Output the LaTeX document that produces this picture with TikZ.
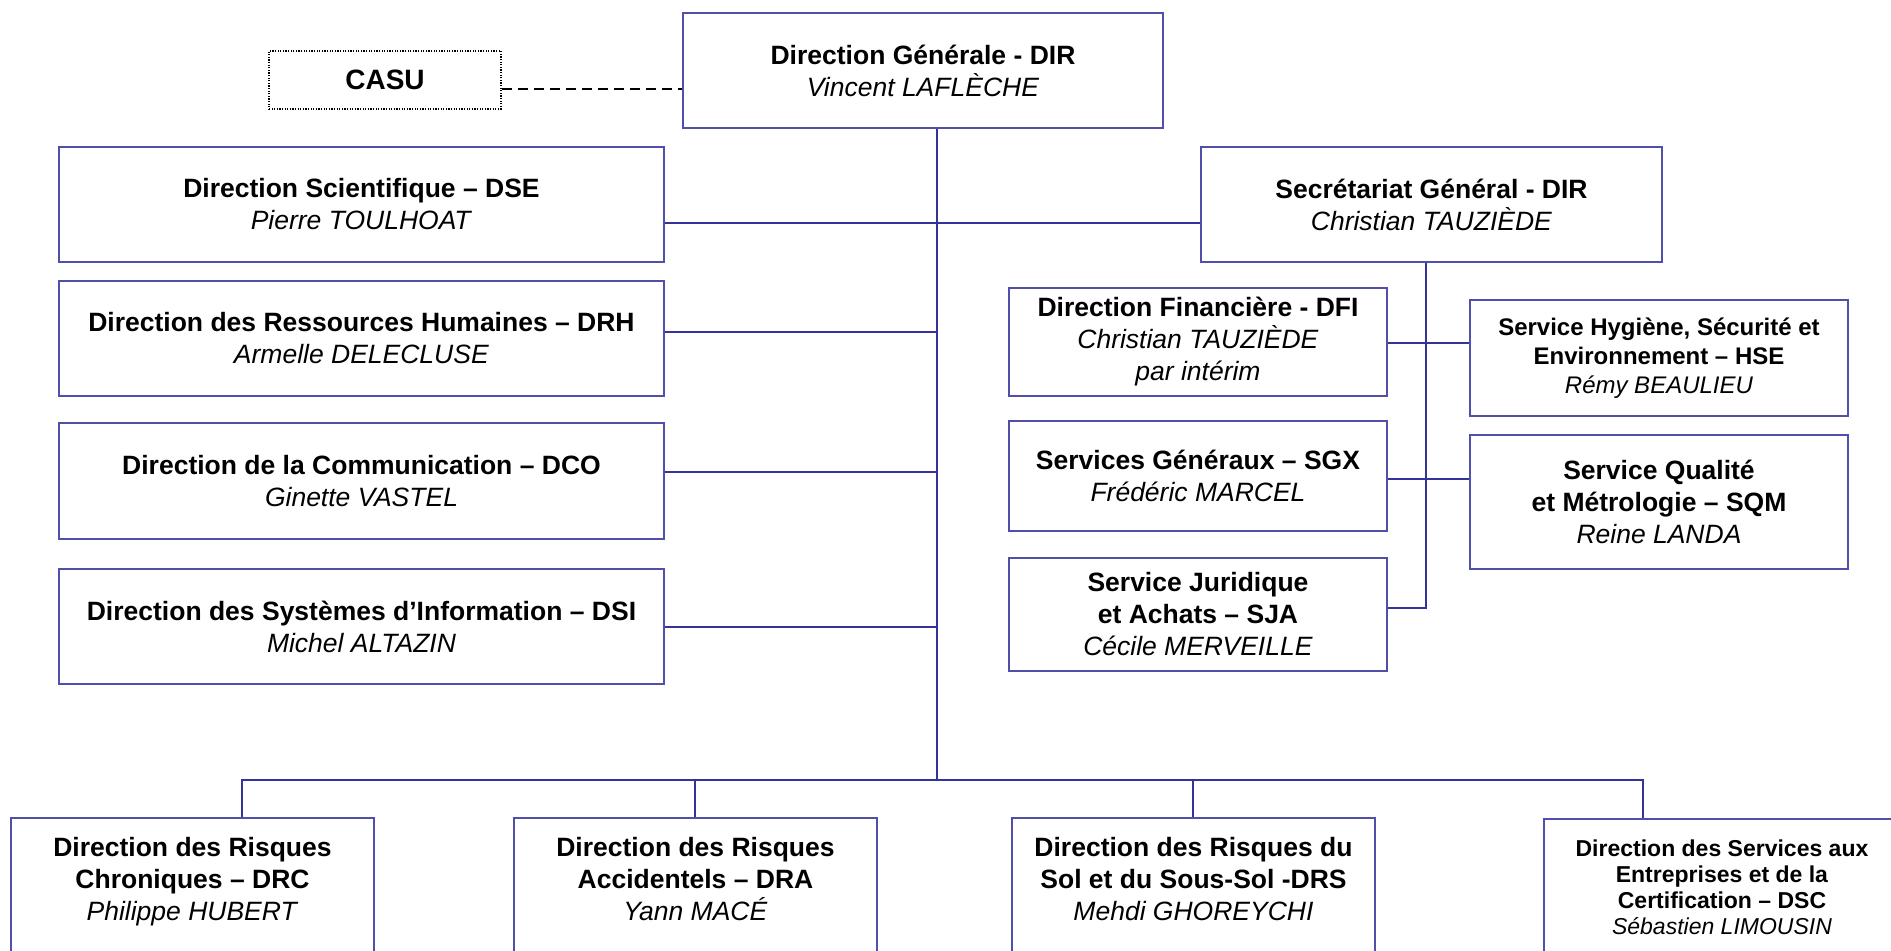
\documentclass[tikz,border=0pt]{standalone}
\usepackage{fontspec}
\setmainfont{Liberation Sans}
\definecolor{boxc}{RGB}{80,80,170}
\definecolor{linec}{RGB}{51,51,153}
\tikzset{
  rect/.style args={#1/#2/#3/#4}{minimum width={(#3-#1)*0.5pt},
    minimum height={(#4-#2)*0.5pt}, at={({(#1+#3)/2},{(#2+#4)/2})}},
  box/.style={draw=boxc, line width=1pt, inner sep=0pt, align=center,
    font=\fontsize{13.25}{16}\selectfont},
  smallbox/.style={box, font=\fontsize{12}{14.5}\selectfont},
  conn/.style={draw=linec, line width=1pt},
  toptext/.style={anchor=north, inner sep=0pt, align=center, yshift=-10pt,
    font=\fontsize{13.25}{16}\selectfont},
  casubox/.style={draw=black, line width=0.8pt, dash pattern=on 0.6pt off 0.7pt,
    inner sep=0pt, font=\fontsize{14}{16}\selectfont\bfseries},
  dashconn/.style={draw=black, line width=1pt, dash pattern=on 5pt off 3pt},
}
\begin{document}
\begin{tikzpicture}[x=0.5pt,y=-0.5pt]
\useasboundingbox (0,0) rectangle (1891,951);
\clip (0,0) rectangle (1891,951);
\fill[white] (0,0) rectangle (1891,951);

% top
\node[box, rect=683/13/1163/128] (dir) {\textbf{Direction Générale - DIR}\\\textit{Vincent LAFLÈCHE}};
\node[casubox, rect=269/51/501/109] (casu) {CASU};

% left column
\node[box, rect=59/147/664/262] (dse) {\textbf{Direction Scientifique – DSE}\\\textit{Pierre TOULHOAT}};
\node[box, rect=59/281/664/396] (drh) {\textbf{Direction des Ressources Humaines – DRH}\\\textit{Armelle DELECLUSE}};
\node[box, rect=59/423/664/539] (dco) {\textbf{Direction de la Communication – DCO}\\\textit{Ginette VASTEL}};
\node[box, rect=59/569/664/684] (dsi) {\textbf{Direction des Systèmes d’Information – DSI}\\\textit{Michel ALTAZIN}};

% right side
\node[box, rect=1201/147/1662/262] (sg) {\textbf{Secrétariat Général - DIR}\\\textit{Christian TAUZIÈDE}};
\node[box, rect=1009/288/1387/396] (dfi) {\textbf{Direction Financière - DFI}\\\textit{Christian TAUZIÈDE}\\\textit{par intérim}};
\node[box, rect=1009/421/1387/531] (sgx) {\textbf{Services Généraux – SGX}\\\textit{Frédéric MARCEL}};
\node[box, rect=1009/558/1387/671] (sja) {\textbf{Service Juridique}\\\textbf{et Achats – SJA}\\\textit{Cécile MERVEILLE}};
\node[smallbox, rect=1470/300/1848/416] (hse) {\textbf{Service Hygiène, Sécurité et}\\\textbf{Environnement – HSE}\\\textit{Rémy BEAULIEU}};
\node[box, rect=1470/435/1848/569] (sqm) {\textbf{Service Qualité}\\\textbf{et Métrologie – SQM}\\\textit{Reine LANDA}};

% bottom row
\node[box, rect=11/818/374/1010,
  label={[toptext]north:{\textbf{Direction des Risques}\\\textbf{Chroniques – DRC}\\\textit{Philippe HUBERT}}}] (drc) {};
\node[box, rect=514/818/877/1010,
  label={[toptext]north:{\textbf{Direction des Risques}\\\textbf{Accidentels – DRA}\\\textit{Yann MACÉ}}}] (dra) {};
\node[box, rect=1012/818/1375/1010,
  label={[toptext]north:{\textbf{Direction des Risques du}\\\textbf{Sol et du Sous-Sol -DRS}\\\textit{Mehdi GHOREYCHI}}}] (drs) {};
\node[box, rect=1544/819/1900/1010,
  label={[toptext, yshift=-0.5pt, font=\fontsize{11.5}{13}\selectfont]north:{\textbf{Direction des Services aux}\\\textbf{Entreprises et de la}\\\textbf{Certification – DSC}\\\textit{Sébastien LIMOUSIN}}}] (dsc) {};

% helper coordinates
\coordinate (bus) at (937,780);
\coordinate (yC) at (0,89);
\coordinate (yDSE) at (0,223);
\coordinate (yDRH) at (0,332);
\coordinate (yDCO) at (0,472);
\coordinate (yDSI) at (0,627);
\coordinate (yDFI) at (0,343);
\coordinate (ySGX) at (0,479);
\coordinate (sgv) at (1426,608);
\coordinate (dA) at (242,780);
\coordinate (dB) at (694.5,780);
\coordinate (dC) at (1193,780);
\coordinate (dD) at (1643,780);

% connectors
\draw[dashconn] (casu.east |- yC) -- (dir.west |- yC);
\draw[conn] (dir.south -| bus) -- (bus);
\draw[conn] (dse.east |- yDSE) -- (sg.west |- yDSE);
\draw[conn] (drh.east |- yDRH) -- (bus |- yDRH);
\draw[conn] (dco.east |- yDCO) -- (bus |- yDCO);
\draw[conn] (dsi.east |- yDSI) -- (bus |- yDSI);
\draw[conn] (sg.south -| sgv) -- (sgv) -- (sja.east |- sgv);
\draw[conn] (dfi.east |- yDFI) -- (hse.west |- yDFI);
\draw[conn] (sgx.east |- ySGX) -- (sqm.west |- ySGX);
\draw[conn] (drc.north -| dA) -- (dA) -- (dD) -- (dsc.north -| dD);
\draw[conn] (dB) -- (dra.north -| dB);
\draw[conn] (dC) -- (drs.north -| dC);
\end{tikzpicture}
\end{document}
